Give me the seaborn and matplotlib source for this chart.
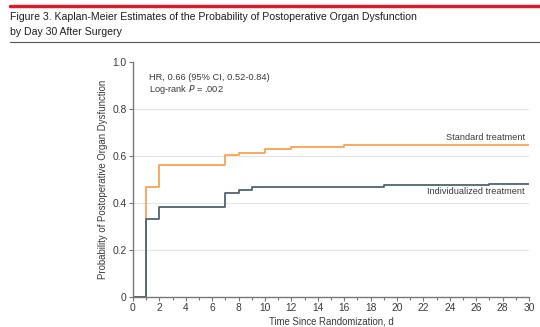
import matplotlib
matplotlib.use("Agg")
import matplotlib.pyplot as plt
import seaborn as sns
import pandas as pd
from matplotlib.lines import Line2D
from matplotlib.ticker import MultipleLocator

std_days = [0, 1, 2, 7, 8, 10, 12, 16, 30]
std_prob = [0, 0.466, 0.562, 0.604, 0.614, 0.628, 0.637, 0.646, 0.646]
ind_days = [0, 1, 2, 7, 8, 9, 19, 27, 30]
ind_prob = [0, 0.330, 0.385, 0.443, 0.457, 0.468, 0.478, 0.482, 0.482]
groups = ["Standard treatment", "Individualized treatment"]
x_ticks = list(range(0, 31, 2))
y_ticks = [0, 0.2, 0.4, 0.6, 0.8, 1.0]
y_tick_labels = ["0", "0.2", "0.4", "0.6", "0.8", "1.0"]

df = pd.concat([
    pd.DataFrame({"day": std_days, "prob": std_prob, "group": groups[0]}),
    pd.DataFrame({"day": ind_days, "prob": ind_prob, "group": groups[1]}),
])

sns.set_theme(style="white")
FONT = ["Liberation Sans", "DejaVu Sans"]
plt.rcParams["font.family"] = FONT
TXT = "#3a3a3a"

fig = plt.figure(figsize=(5.4, 3.27), dpi=100)
ax = fig.add_axes([133/540, 1-297/327, (529-133)/540, (297-62)/327])

palette = {groups[0]: "#F7A355", groups[1]: "#4E6470"}
sns.lineplot(data=df, x="day", y="prob", hue="group", palette=palette,
             drawstyle="steps-post", linewidth=1.3, legend=False, ax=ax,
             estimator=None)

ax.set_xlim(0, 30)
ax.set_ylim(0, 1.0)
ax.set_xticks(x_ticks)
ax.xaxis.set_minor_locator(MultipleLocator(1))
ax.set_yticks(y_ticks)
ax.set_yticklabels(y_tick_labels)
for y in y_ticks[1:-1]:
    ax.axhline(y, color="#e6e6e6", linewidth=0.8, zorder=0)

for s in ["top", "right"]:
    ax.spines[s].set_visible(False)
for s in ["left", "bottom"]:
    ax.spines[s].set_color("#777777")
    ax.spines[s].set_linewidth(1.0)
ax.tick_params(axis="both", which="major", direction="out", length=3, width=0.8,
               color="#777777", labelsize=7.4, labelcolor=TXT, pad=1.5, bottom=True, left=True)
ax.tick_params(axis="x", which="minor", direction="out", length=2, width=0.8,
               color="#777777", bottom=True)

ax.set_xlabel("Time Since Randomization, d", fontsize=6.9, color=TXT, labelpad=2)
ax.set_ylabel("Probability of Postoperative Organ Dysfunction", fontsize=6.9, color=TXT, labelpad=3)

ax.text(1.2, 0.935, "HR, 0.66 (95% CI, 0.52-0.84)", fontsize=6.7, color=TXT, va="center")
ax.text(1.2, 0.885, "Log-rank $\\it{P}$ = .002", fontsize=6.7, color=TXT, va="center")
ax.text(29.7, 0.68, "Standard treatment", fontsize=6.6, color=TXT, ha="right", va="center")
ax.text(29.7, 0.447, "Individualized treatment", fontsize=6.6, color=TXT, ha="right", va="center")

fig.add_artist(Line2D([10/540, 1.0], [1-6/327, 1-6/327], color="#D2202F", linewidth=2.5))
fig.add_artist(Line2D([10/540, 1.0], [1-42/327, 1-42/327], color="#555555", linewidth=0.8))
fig.text(10/540, 1-17/327, "Figure 3. Kaplan-Meier Estimates of the Probability of Postoperative Organ Dysfunction",
         fontsize=7.6, color="#1f1f1f", va="center", ha="left", fontweight="medium")
fig.text(10/540, 1-32/327, "by Day 30 After Surgery",
         fontsize=7.6, color="#1f1f1f", va="center", ha="left", fontweight="medium")

fig.savefig("out.png", dpi=100)
